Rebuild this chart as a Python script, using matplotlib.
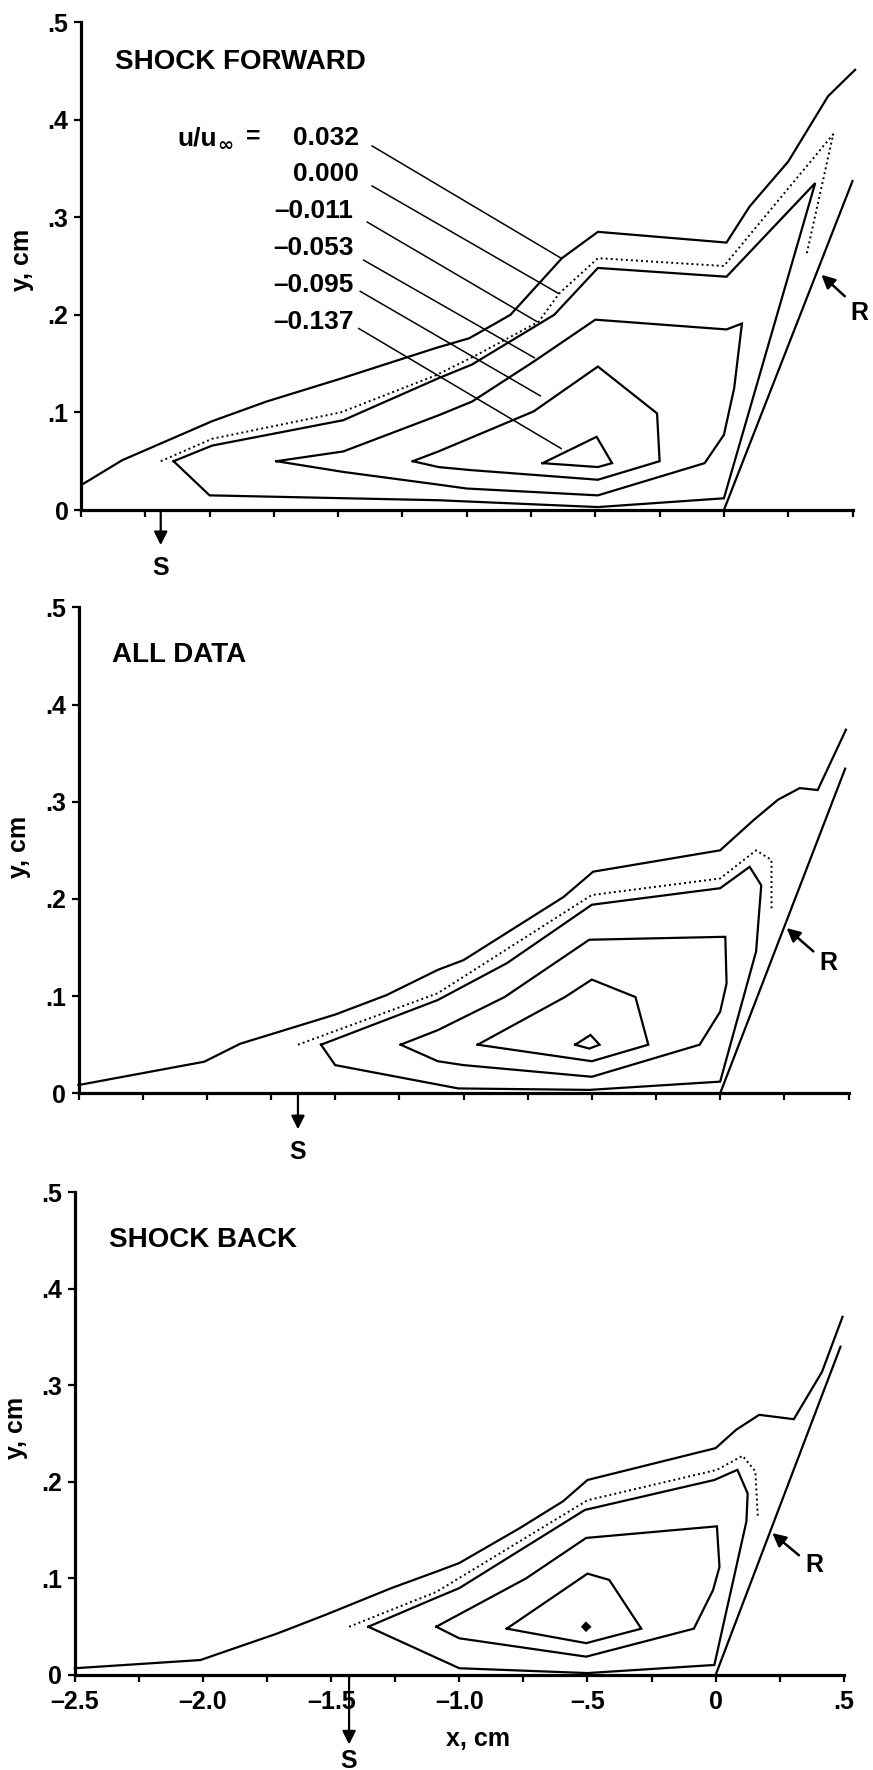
import numpy as np
import matplotlib.pyplot as plt

plt.rcParams['font.family'] = ['Liberation Sans', 'DejaVu Sans']
plt.rcParams['font.weight'] = 'bold'

# contour levels, u/u_inf
levels = ['0.032', '0.000', '\u20130.011', '\u20130.053', '\u20130.095', '\u20130.137']

# ---- SHOCK FORWARD  (x, y) in cm
fwd_032 = [(-2.49, 0.027), (-2.34, 0.051), (-1.99, 0.091), (-1.78, 0.111), (-1.485, 0.135),
           (-1.12, 0.166), (-0.99, 0.176), (-0.83, 0.200), (-0.63, 0.258), (-0.49, 0.285),
           (0.01, 0.274), (0.10, 0.311), (0.25, 0.357), (0.405, 0.424), (0.51, 0.451)]
fwd_000 = [(-2.19, 0.050), (-1.99, 0.073), (-1.49, 0.100), (-1.12, 0.138), (-0.96, 0.159),
           (-0.72, 0.193), (-0.64, 0.222), (-0.49, 0.258), (0.0, 0.250), (0.425, 0.385),
           (0.32, 0.260)]
fwd_m011 = [(-2.14, 0.050), (-1.99, 0.066), (-1.48, 0.092), (-1.11, 0.135), (-0.98, 0.149),
            (-0.66, 0.200), (-0.49, 0.248), (0.01, 0.239), (0.355, 0.335), (0.0, 0.012),
            (-0.49, 0.003), (-1.11, 0.010), (-2.0, 0.015), (-2.14, 0.050)]
fwd_m053 = [(-1.74, 0.050), (-1.48, 0.060), (-1.11, 0.097), (-0.98, 0.111), (-0.74, 0.152),
            (-0.50, 0.195), (0.01, 0.185), (0.07, 0.191), (0.04, 0.125), (0.0, 0.077),
            (-0.075, 0.048), (-0.49, 0.015), (-1.0, 0.022), (-1.11, 0.026), (-1.48, 0.039),
            (-1.74, 0.050)]
fwd_m095 = [(-1.21, 0.050), (-1.11, 0.060), (-0.74, 0.101), (-0.49, 0.147), (-0.26, 0.099),
            (-0.25, 0.050), (-0.49, 0.031), (-0.99, 0.041), (-1.11, 0.044), (-1.21, 0.050)]
fwd_m137 = [(-0.705, 0.048), (-0.495, 0.075), (-0.435, 0.048), (-0.49, 0.044), (-0.705, 0.048)]
fwd_ramp = [(0.0, 0.0), (0.50, 0.337)]

# ---- ALL DATA
all_032 = [(-2.5, 0.0085), (-2.01, 0.0325), (-1.87, 0.051), (-1.50, 0.081), (-1.30, 0.101),
           (-1.10, 0.127), (-1.0, 0.137), (-0.61, 0.202), (-0.495, 0.228), (0.0, 0.250),
           (0.13, 0.281), (0.225, 0.302), (0.31, 0.314), (0.38, 0.312), (0.49, 0.374)]
all_000 = [(-1.645, 0.050), (-1.10, 0.103), (-0.50, 0.204), (0.0, 0.221), (0.14, 0.250),
           (0.20, 0.240), (0.20, 0.189)]
all_m011 = [(-1.555, 0.050), (-1.10, 0.096), (-0.83, 0.134), (-0.50, 0.194), (0.0, 0.211),
            (0.115, 0.233), (0.16, 0.214), (0.14, 0.146), (0.0, 0.012), (-0.51, 0.0035),
            (-1.02, 0.005), (-1.50, 0.029), (-1.555, 0.050)]
all_m053 = [(-1.245, 0.050), (-1.10, 0.065), (-0.84, 0.099), (-0.51, 0.158), (0.02, 0.161),
            (0.025, 0.113), (0.0, 0.084), (-0.08, 0.050), (-0.50, 0.017), (-1.0, 0.029),
            (-1.10, 0.033), (-1.245, 0.050)]
all_m095 = [(-0.945, 0.050), (-0.605, 0.099), (-0.50, 0.117), (-0.33, 0.099), (-0.28, 0.050),
            (-0.50, 0.033), (-0.945, 0.050)]
all_m137 = [(-0.565, 0.050), (-0.505, 0.060), (-0.47, 0.050), (-0.51, 0.046), (-0.565, 0.050)]
all_ramp = [(0.0, 0.0), (0.487, 0.334)]

# ---- SHOCK BACK
back_032 = [(-2.5, 0.007), (-2.01, 0.0155), (-1.71, 0.043), (-1.525, 0.062), (-1.265, 0.090),
            (-1.09, 0.107), (-1.0, 0.116), (-0.765, 0.152), (-0.595, 0.180), (-0.50, 0.202),
            (0.0, 0.235), (0.08, 0.254), (0.17, 0.2695), (0.305, 0.265), (0.415, 0.314),
            (0.495, 0.371)]
back_000 = [(-1.43, 0.050), (-1.09, 0.086), (-0.50, 0.181), (0.005, 0.2125), (0.105, 0.227),
            (0.155, 0.211), (0.165, 0.162)]
back_m011 = [(-1.355, 0.050), (-1.09, 0.080), (-1.0, 0.090), (-0.51, 0.171), (-0.005, 0.202),
             (0.085, 0.2125), (0.125, 0.188), (0.12, 0.159), (-0.005, 0.0104), (-0.50, 0.002),
             (-1.0, 0.007), (-1.355, 0.050)]
back_m053 = [(-1.09, 0.050), (-0.74, 0.100), (-0.505, 0.142), (0.005, 0.154), (0.015, 0.112),
             (-0.01, 0.088), (-0.085, 0.048), (-0.505, 0.019), (-1.0, 0.038), (-1.09, 0.050)]
back_m095 = [(-0.815, 0.048), (-0.50, 0.105), (-0.415, 0.0985), (-0.29, 0.048), (-0.505, 0.033),
             (-0.815, 0.048)]
back_m137 = [(-0.52, 0.050), (-0.506, 0.054), (-0.49, 0.050), (-0.506, 0.046)]
back_ramp = [(0.0, 0.0), (0.487, 0.340)]

# separation (S) x locations
s_fwd, s_all, s_back = -2.19, -1.645, -1.43

x_major = [-2.5, -2.0, -1.5, -1.0, -0.5, 0.0, 0.5]
x_major_lbl = ['\u20132.5', '\u20132.0', '\u20131.5', '\u20131.0', '\u2013.5', '0', '.5']
y_ticks = [0, 0.1, 0.2, 0.3, 0.4, 0.5]
y_tick_lbl = ['0', '.1', '.2', '.3', '.4', '.5']

LW = 1.6
FS = 18


def xy(pts):
    a = np.array(pts)
    return a[:, 0], a[:, 1]


def setup(ax, title, title_y, ylab_pos):
    ax.set_xlim(-2.5, 0.5)
    ax.set_ylim(0, 0.5)
    for s in ['top', 'right']:
        ax.spines[s].set_visible(False)
    for s in ['left', 'bottom']:
        ax.spines[s].set_linewidth(2.3)
    ax.set_xticks(x_major)
    ax.set_xticks(np.arange(-2.25, 0.5, 0.5), minor=True)
    ax.set_yticks(y_ticks)
    ax.set_yticklabels(y_tick_lbl)
    ax.tick_params(which='both', direction='out', length=5, width=1.6, labelsize=FS, pad=4)
    ax.set_ylabel('y, cm', fontsize=FS, fontweight='bold')
    ax.yaxis.set_label_coords(*ylab_pos)
    ax.text(0.044, title_y, title, transform=ax.transAxes, fontsize=20,
            fontweight='bold', ha='left', va='center')


def draw(ax, solids, dotted, dot137, ramp, s_x, s_tip, s_lab, r_tip, r_tail, r_lab):
    for c in solids:
        ax.plot(*xy(c), color='black', lw=LW, clip_on=False, solid_joinstyle='miter')
    ax.plot(*xy(dotted), color='black', lw=1.4, ls=(0, (1, 1.6)), clip_on=False)
    if dot137 is not None:
        ax.fill(*xy(dot137), color='black', lw=1.5, clip_on=False)
    ax.plot(*xy(ramp), color='black', lw=LW, clip_on=False)
    ax.annotate('', xy=(s_x, s_tip), xytext=(s_x, 0.0), annotation_clip=False,
                arrowprops=dict(arrowstyle='-|>', color='black', lw=1.6,
                                mutation_scale=20, shrinkA=0, shrinkB=0))
    ax.text(s_x, s_lab, 'S', fontsize=FS, ha='center', va='center', clip_on=False)
    ax.annotate('', xy=r_tip, xytext=r_tail, annotation_clip=False,
                arrowprops=dict(arrowstyle='-|>', color='black', lw=1.8,
                                mutation_scale=20, shrinkA=0, shrinkB=0))
    ax.text(r_lab[0], r_lab[1], 'R', fontsize=FS, ha='center', va='center', clip_on=False)


fig = plt.figure(figsize=(8.73, 17.70), dpi=100)
W, H = 873.0, 1770.0
ax1 = fig.add_axes([81 / W, 1 - 510 / H, 771.5 / W, 488 / H])
ax2 = fig.add_axes([78.5 / W, 1 - 1093.3 / H, 770 / W, 486 / H])
ax3 = fig.add_axes([74.8 / W, 1 - 1675 / H, 769 / W, 482.7 / H])

setup(ax1, 'SHOCK FORWARD', 0.918, (-0.061, 0.512))
setup(ax2, 'ALL DATA', 0.902, (-0.062, 0.507))
setup(ax3, 'SHOCK BACK', 0.901, (-0.0615, 0.512))

draw(ax1, [fwd_032, fwd_m011, fwd_m053, fwd_m095, fwd_m137], fwd_000, None, fwd_ramp,
     s_fwd, -0.036, -0.059, (0.379, 0.241), (0.470, 0.219), (0.528, 0.202))
draw(ax2, [all_032, all_m011, all_m053, all_m095, all_m137], all_000, None, all_ramp,
     s_all, -0.037, -0.060, (0.259, 0.170), (0.363, 0.146), (0.421, 0.134))
draw(ax3, [back_032, back_m011, back_m053, back_m095], back_000, back_m137, back_ramp,
     s_back, -0.072, -0.089, (0.221, 0.147), (0.325, 0.124), (0.384, 0.114))

ax1.set_xticklabels([])
ax2.set_xticklabels([])
ax3.set_xticklabels(x_major_lbl)
ax3.tick_params(axis='x', pad=6)
ax3.text(0.524, -0.133, 'x, cm', transform=ax3.transAxes, fontsize=FS,
         ha='center', va='center')

# level labels with leader lines (top panel)
lbl_y = [0.381, 0.344, 0.306, 0.268, 0.231, 0.193]
lbl_x = [-1.42, -1.42, -1.44, -1.44, -1.44, -1.44]
lead_start = [(-1.368, 0.373), (-1.368, 0.332), (-1.387, 0.295), (-1.401, 0.256),
              (-1.414, 0.224), (-1.420, 0.186)]
lead_end = [(-0.633, 0.258), (-0.644, 0.222), (-0.727, 0.193), (-0.737, 0.156),
            (-0.714, 0.117), (-0.633, 0.063)]
for txt, lx, ly, p0, p1 in zip(levels, lbl_x, lbl_y, lead_start, lead_end):
    ax1.text(lx, ly, txt, fontsize=19, ha='right', va='center')
    ax1.plot([p0[0], p1[0]], [p0[1], p1[1]], color='black', lw=1.1)
# "u/u∞ =" heading, built from pieces so the subscript infinity sits low and close
ax1.text(-1.972, 0.381, 'u/u', fontsize=19, ha='right', va='center')
ax1.text(-1.938, 0.373, '\u221e', fontsize=14, ha='center', va='center',
         family=['DejaVu Sans'])
ax1.text(-1.83, 0.383, '=', fontsize=18, ha='center', va='center')

fig.savefig('out.png', dpi=100)
